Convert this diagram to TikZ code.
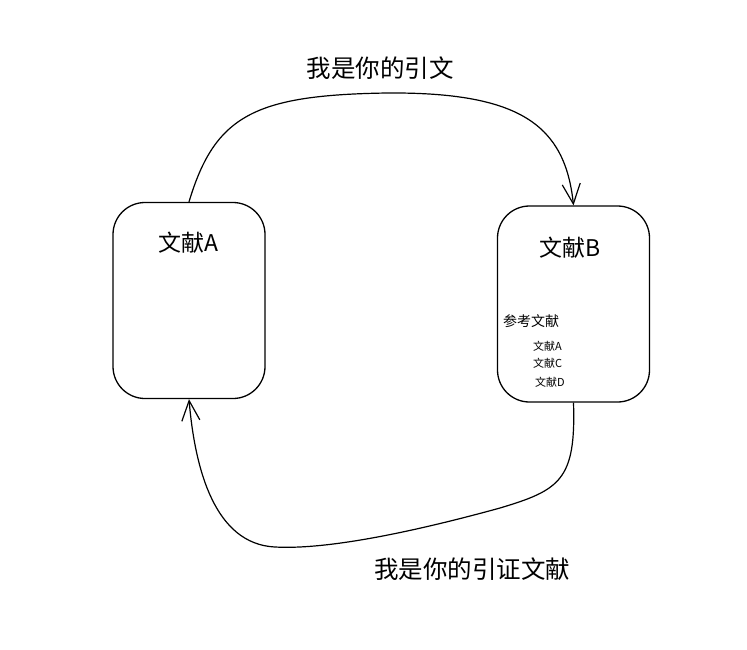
\documentclass[tikz,border=0pt]{standalone}
\usepackage{fontspec}
\setmainfont{Noto Sans CJK SC}
\usetikzlibrary{arrows.meta}

\begin{document}
\begin{tikzpicture}[x=1pt,y=-1pt,
 doc/.style={draw,line width=1.3pt,rounded corners=32pt,minimum width=152pt,minimum height=196pt,inner sep=0pt},
 ttl/.style={font=\fontsize{23}{26}\selectfont,inner sep=0pt},
 sub/.style={font=\fontsize{14}{16}\selectfont,inner sep=0pt,anchor=west},
 ref/.style={font=\fontsize{11}{13}\selectfont,inner sep=0pt,anchor=west},
 lab/.style={font=\fontsize{24.5}{28}\selectfont,inner sep=0pt},
 cite/.style={line width=1.2pt,-{Straight Barb[length=20pt,width=18pt]}}]
\useasboundingbox (0,0) rectangle (747,649);
\node[doc] (docA) at (189,300.5) {};
\node[doc] (docB) at (573.5,304) {};
\node[ttl] (titleA) at (188,243) {文献A};
\node[ttl] (titleB) at (570,248) {文献B};
\node[sub] (refs) at (503,321) {参考文献};
\node[ref] (refA) at (533,346) {文献A};
\node[ref] (refC) at (533,363) {文献C};
\node[ref] (refD) at (535,382) {文献D};
\draw[cite] (docA.north) .. controls (215,115) and (255,95) .. (387,93)
 .. controls (520,92) and (565,125) .. (docB.north);
\draw[cite] (docB.south) .. controls (576,480) and (560,490) .. (500,508)
 .. controls (420,530) and (330,550) .. (275,547)
 .. controls (215,544) and (195,470) .. (docA.south);
\node[lab] (citeAB) at (380,68) {我是你的引文};
\node[lab] (citeBA) at (472,569) {我是你的引证文献};
\end{tikzpicture}
\end{document}
